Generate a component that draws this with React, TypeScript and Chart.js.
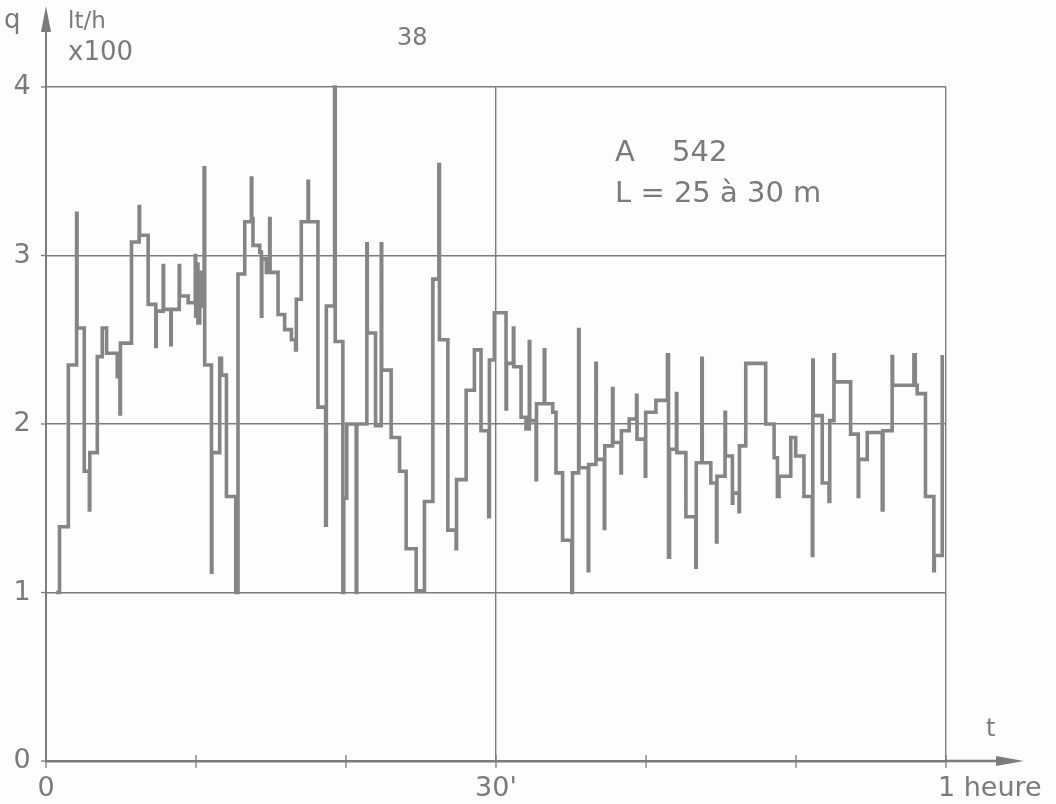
import React, { useEffect, useRef } from "react";
import { Chart, registerables } from "chart.js";

Chart.register(...registerables);

// time in minutes (value holds from this time until the next one)
const minutes = [
  0.67, 0.9, 1.49, 2.04, 2.07, 2.55, 2.89, 2.92, 3.42, 3.75, 4.04, 4.75, 4.93, 4.96, 5.7, 6.21, 6.24, 6.81, 7.32, 7.35,
  7.81, 7.84, 8.32, 8.35, 8.88, 8.91, 9.48, 9.95, 9.98, 10.1, 10.13, 10.25, 10.3, 10.54, 10.58, 11.03, 11.06, 11.58, 11.7, 12.03,
  12.65, 12.8, 13.25, 13.69, 13.72, 13.8, 14.25, 14.36, 14.39, 14.69, 14.91, 14.94, 15.47, 15.91, 16.36, 16.64, 16.69, 17.02, 17.47, 17.5,
  18.13, 18.64, 18.69, 19.24, 19.28, 19.79, 19.85, 20.05, 20.68, 20.72, 21.39, 21.42, 21.97, 22.35, 22.38, 23.01, 23.57, 24.01, 24.68, 25.23,
  25.79, 26.19, 26.23, 26.79, 27.34, 27.37, 28.01, 28.56, 29.0, 29.51, 29.56, 29.89, 30.67, 30.7, 31.16, 31.19, 31.67, 32.0, 32.22, 32.25,
  32.67, 32.7, 33.22, 33.25, 33.78, 34.0, 34.44, 35.05, 35.1, 35.51, 35.54, 36.15, 36.18, 36.66, 36.69, 37.22, 37.25, 37.77, 37.8, 38.33,
  38.36, 38.88, 39.37, 39.4, 39.95, 39.98, 40.66, 41.43, 41.5, 41.57, 42.03, 42.06, 42.66, 43.32, 43.35, 43.72, 43.75, 44.32, 44.7, 44.73,
  45.27, 45.3, 45.76, 45.79, 46.2, 46.23, 46.65, 47.98, 48.54, 48.76, 48.87, 49.65, 49.98, 50.53, 51.09, 51.12, 51.15, 51.75, 52.2, 52.25,
  52.53, 52.56, 53.64, 54.15, 54.18, 54.75, 55.75, 55.8, 56.41, 56.44, 57.86, 57.95, 58.08, 58.63, 59.19, 59.22, 59.75,
];

// flow q in lt/h x 100
const flow = [
  1.0, 1.39, 2.35, 3.25, 2.57, 1.72, 1.49, 1.83, 2.4, 2.57, 2.42, 2.28, 2.06, 2.48, 3.08, 3.29, 3.12, 2.71, 2.46, 2.67,
  2.94, 2.68, 2.47, 2.68, 2.94, 2.76, 2.72, 3.0, 2.64, 2.95, 2.6, 2.9, 2.7, 3.52, 2.35, 1.12, 1.83, 2.39, 2.29, 1.57,
  1.0, 2.89, 3.2, 3.46, 3.22, 3.06, 3.02, 2.64, 2.98, 2.9, 3.22, 2.9, 2.65, 2.56, 2.5, 2.44, 2.74, 3.2, 3.44, 3.2,
  2.1, 1.4, 2.7, 4.0, 2.49, 1.0, 1.56, 2.0, 1.0, 2.0, 3.07, 2.54, 1.99, 3.07, 2.32, 1.92, 1.72, 1.26, 1.01, 1.54,
  2.86, 3.54, 2.5, 1.37, 1.26, 1.67, 2.2, 2.44, 1.96, 1.45, 2.38, 2.66, 2.09, 2.36, 2.57, 2.34, 2.04, 1.97, 2.49, 2.02,
  1.67, 2.12, 2.44, 2.12, 2.07, 1.71, 1.31, 1.0, 1.71, 2.56, 1.74, 1.13, 1.76, 2.36, 1.79, 1.38, 1.87, 2.21, 1.89, 1.71,
  1.96, 2.03, 2.17, 1.91, 1.69, 2.07, 2.14, 2.41, 1.21, 1.85, 2.18, 1.83, 1.45, 1.15, 1.77, 2.39, 1.77, 1.65, 1.3, 1.69,
  2.07, 1.81, 1.53, 1.59, 1.48, 1.87, 2.36, 2.0, 1.8, 1.57, 1.69, 1.92, 1.81, 1.57, 1.22, 2.38, 2.05, 1.65, 1.54, 2.02,
  2.41, 2.25, 1.94, 1.57, 1.79, 1.95, 1.49, 1.96, 2.4, 2.23, 2.41, 2.23, 2.18, 1.57, 1.13, 1.22, 2.41,
];

const yTickValues = [0, 1, 2, 3, 4];
const yTickLabels = ["0", "1", "2", "3", "4"];
const xTickValues = [0, 30, 60];
const xTickLabels = ["0", "30'", "1 heure"];
const xMinorTicks = [10, 20, 40, 50];
const xGridValues = [30, 60];

const INK = "#7a7a7a";
const GRID = "#7c7c7c";
const TRACE = "#858585";
const FONT = "'DejaVu Sans', sans-serif";

const decorPlugin = {
  id: "decor",
  afterDraw(chart: any) {
    const { ctx, chartArea } = chart;
    const xs = chart.scales.x;
    const ys = chart.scales.y;
    const x0 = xs.getPixelForValue(0);
    const y0 = ys.getPixelForValue(0);
    ctx.save();
    ctx.strokeStyle = GRID;
    ctx.fillStyle = GRID;
    ctx.lineWidth = 2;
    // y axis extension + arrow
    ctx.beginPath();
    ctx.moveTo(x0, chartArea.top);
    ctx.lineTo(x0, 18);
    ctx.stroke();
    ctx.beginPath();
    ctx.moveTo(x0, 6);
    ctx.lineTo(x0 - 5, 32);
    ctx.lineTo(x0 + 5, 32);
    ctx.closePath();
    ctx.fill();
    // x axis extension + arrow
    ctx.lineWidth = 2.5;
    ctx.beginPath();
    ctx.moveTo(chartArea.right, y0);
    ctx.lineTo(1010, y0);
    ctx.stroke();
    ctx.beginPath();
    ctx.moveTo(1024, y0);
    ctx.lineTo(996, y0 - 5);
    ctx.lineTo(996, y0 + 5);
    ctx.closePath();
    ctx.fill();
    // small ticks on x axis
    ctx.lineWidth = 1.3;
    for (const v of [...xMinorTicks, 0, 30, 60]) {
      const px = xs.getPixelForValue(v);
      ctx.beginPath();
      ctx.moveTo(px, y0 - 6);
      ctx.lineTo(px, y0 + 7);
      ctx.stroke();
    }
    // small ticks on y axis
    for (const v of yTickValues) {
      const py = ys.getPixelForValue(v);
      ctx.beginPath();
      ctx.moveTo(x0 - 5, py);
      ctx.lineTo(x0, py);
      ctx.stroke();
    }
    // tick labels
    ctx.fillStyle = INK;
    ctx.font = `27px ${FONT}`;
    ctx.textAlign = "center";
    ctx.textBaseline = "middle";
    yTickValues.forEach((v, i) => {
      ctx.fillText(yTickLabels[i], 22, ys.getPixelForValue(v));
    });
    ctx.textBaseline = "alphabetic";
    xTickValues.forEach((v, i) => {
      const px = xs.getPixelForValue(v);
      if (i === xTickValues.length - 1) {
        ctx.textAlign = "left";
        ctx.fillText(xTickLabels[i], px - 8, 796);
      } else {
        ctx.textAlign = "center";
        ctx.fillText(xTickLabels[i], px, 796);
      }
    });
    // axis titles and notes
    ctx.textAlign = "left";
    ctx.font = `26px ${FONT}`;
    ctx.fillText("q", 4, 28);
    ctx.font = `23px ${FONT}`;
    ctx.fillText("lt/h", 68, 28);
    ctx.font = `26px ${FONT}`;
    ctx.fillText("x100", 68, 60);
    ctx.font = `24px ${FONT}`;
    ctx.fillText("38", 397, 45);
    ctx.font = `29px ${FONT}`;
    ctx.fillText("A", 615, 161);
    ctx.fillText("542", 672, 161);
    ctx.fillText("L = 25 à 30 m", 615, 202);
    ctx.font = `24px ${FONT}`;
    ctx.fillText("t", 986, 736);
    ctx.restore();
  },
};

export default function App() {
  const ref = useRef<HTMLCanvasElement | null>(null);
  useEffect(() => {
    if (!ref.current) return;
    const points = minutes.map((m, i) => ({ x: m, y: flow[i] }));
    const chart = new Chart(ref.current, {
      type: "line",
      data: {
        datasets: [
          {
            data: points,
            stepped: "before",
            borderColor: TRACE,
            borderWidth: 3.6,
            pointRadius: 0,
            fill: false,
            clip: 6,
          } as any,
        ],
      },
      options: {
        animation: false,
        responsive: true,
        maintainAspectRatio: false,
        layout: { padding: { left: 46, right: 110, top: 87, bottom: 43 } },
        plugins: { legend: { display: false }, tooltip: { enabled: false } },
        scales: {
          x: {
            type: "linear",
            min: 0,
            max: 60,
            ticks: { display: false, stepSize: 10 },
            grid: {
              drawTicks: false,
              lineWidth: 1.4,
              color: (c: any) => (xGridValues.includes(c.tick?.value) ? GRID : "rgba(0,0,0,0)"),
            },
            border: { display: true, color: GRID, width: 2.5 },
          },
          y: {
            min: 0,
            max: 4,
            ticks: { display: false, stepSize: 1 },
            grid: {
              drawTicks: false,
              lineWidth: 1.4,
              color: (c: any) => (c.tick?.value === 0 ? "rgba(0,0,0,0)" : GRID),
            },
            border: { display: true, color: GRID, width: 2 },
          },
        },
      },
      plugins: [decorPlugin],
    });
    return () => chart.destroy();
  }, []);
  return (
    <div style={{ position: "fixed", left: 0, top: 0, width: 1056, height: 804, background: "#fdfdfd" }}>
      <canvas ref={ref} />
    </div>
  );
}
